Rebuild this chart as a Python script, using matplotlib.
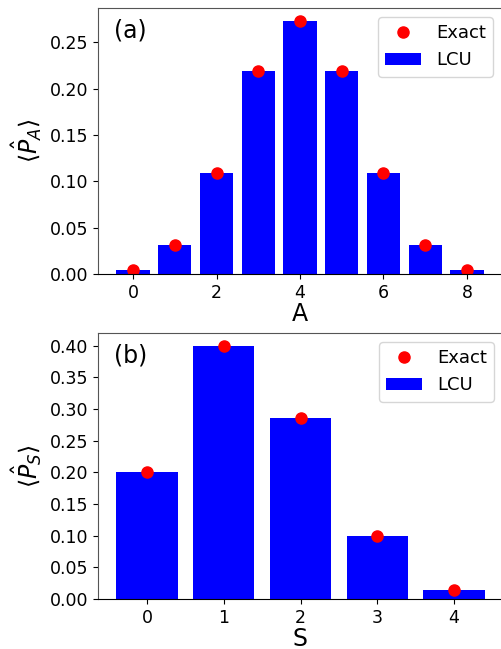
"""Plot LCU vs exact probability distributions for A and S."""

from matplotlib import pyplot as plt

# Panel (a)
a_vals = [0, 1, 2, 3, 4, 5, 6, 7, 8]
pa_lcu = [0.0039, 0.0312, 0.1094, 0.2188, 0.2734, 0.2188, 0.1094, 0.0312, 0.0039]
pa_exact = [0.0039, 0.0312, 0.1094, 0.2188, 0.2734, 0.2188, 0.1094, 0.0312, 0.0039]

# Panel (b)
s_vals = [0, 1, 2, 3, 4]
ps_lcu = [0.200, 0.400, 0.286, 0.100, 0.014]
ps_exact = [0.200, 0.400, 0.286, 0.100, 0.014]

fig = plt.figure(figsize=(5.01, 6.49), dpi=100)
ax1 = fig.add_axes([98 / 501, 375 / 649, 404 / 501, 266 / 649])
ax2 = fig.add_axes([98 / 501, 50 / 649, 405 / 501, 266 / 649])


def plot_panel(ax, x, lcu, exact, xlabel, ylabel, tag):
    ax.bar(x, lcu, color="blue", label="LCU")
    ax.plot(x, exact, "o", color="red", markersize=8, label="Exact")
    ax.set_xlabel(xlabel, fontsize=17, labelpad=0)
    ax.set_ylabel(ylabel, fontsize=17)
    ax.tick_params(labelsize=12.5)
    ax.text(0.04, 0.915, tag, transform=ax.transAxes, fontsize=17,
            ha="left", va="center")
    ax.legend(loc="upper right", fontsize=13)
    for sp in ax.spines.values():
        sp.set_color("#555555")
    ax.spines["bottom"].set_color("black")


plot_panel(ax1, a_vals, pa_lcu, pa_exact, "A", r"$\langle\hat{P}_A\rangle$", "(a)")
ax1.set_xticks([0, 2, 4, 6, 8])
plot_panel(ax2, s_vals, ps_lcu, ps_exact, "S", r"$\langle\hat{P}_S\rangle$", "(b)")
ax2.set_xticks(s_vals)
ax2.set_yticks([0.0, 0.05, 0.1, 0.15, 0.2, 0.25, 0.3, 0.35, 0.4])

fig.savefig("out.png", dpi=100)
